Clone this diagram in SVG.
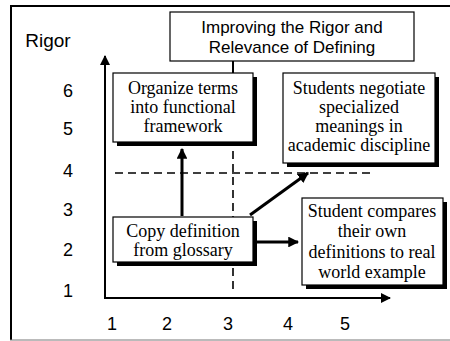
<svg xmlns="http://www.w3.org/2000/svg" width="450" height="341" viewBox="0 0 450 341">
<style>
.ax{font-family:"Liberation Sans",Arial,sans-serif;font-size:18px;fill:#000;text-anchor:middle}
.tt{font-family:"Liberation Sans",Arial,sans-serif;font-size:17px;fill:#000;text-anchor:middle}
.bx{font-family:"Liberation Serif","Times New Roman",serif;font-size:18px;fill:#000;text-anchor:middle}
.box{fill:#fff;stroke:#000;stroke-width:1.2}
.sh{fill:#000}
.ar{stroke:#000;stroke-width:3;fill:none}
.dash{stroke:#000;stroke-width:1.6;stroke-dasharray:8 5;fill:none}
</style>
<defs>
<marker id="ah" viewBox="0 0 10 10" refX="9" refY="5" markerWidth="3.6" markerHeight="3.6" orient="auto" markerUnits="strokeWidth">
<path d="M0,0 L10,5 L0,10 z" fill="#000"/>
</marker>
<marker id="ah2" viewBox="0 0 10 10" refX="9" refY="5" markerWidth="5" markerHeight="5" orient="auto" markerUnits="strokeWidth">
<path d="M0,0 L10,5 L0,10 z" fill="#000"/>
</marker>
</defs>
<rect width="450" height="341" fill="#fff"/>
<g id="frame">
<line x1="10" y1="6" x2="450" y2="6" stroke="#000" stroke-width="2.2"/>
<line x1="11" y1="5" x2="11" y2="340" stroke="#000" stroke-width="2"/>
<line x1="10" y1="340" x2="450" y2="340" stroke="#777" stroke-width="1"/>
</g>
<g id="axes">
<line x1="105" y1="298" x2="105" y2="56" stroke="#000" stroke-width="2" marker-end="url(#ah2)"/>
<line x1="104" y1="298" x2="390" y2="298" stroke="#000" stroke-width="2" marker-end="url(#ah2)"/>
<text class="ax" x="48" y="47" style="font-size:19px">Rigor</text>
<text class="ax" x="68" y="97">6</text>
<text class="ax" x="68" y="135">5</text>
<text class="ax" x="68" y="177">4</text>
<text class="ax" x="68" y="216">3</text>
<text class="ax" x="68" y="256">2</text>
<text class="ax" x="68" y="297">1</text>
<text class="ax" x="112" y="330">1</text>
<text class="ax" x="167" y="330">2</text>
<text class="ax" x="228" y="330">3</text>
<text class="ax" x="288" y="330">4</text>
<text class="ax" x="345" y="330">5</text>
</g>
<g id="connectors">
<line class="dash" x1="233" y1="60" x2="233" y2="290"/>
<line class="dash" x1="115" y1="173" x2="375" y2="173"/>
<line x1="233" y1="61" x2="233" y2="74" stroke="#000" stroke-width="2"/>
<line class="ar" x1="182" y1="216" x2="182" y2="149" marker-end="url(#ah)"/>
<line class="ar" x1="250" y1="215" x2="308" y2="173" marker-end="url(#ah)"/>
<line class="ar" x1="257" y1="242" x2="298" y2="242" marker-end="url(#ah)"/>
</g>
<g id="title">
<rect x="170" y="12" width="244" height="49" fill="#fff" stroke="#000" stroke-width="1.2"/>
<text class="tt" x="292" y="33">Improving the Rigor and</text>
<text class="tt" x="292" y="53">Relevance of Defining</text>
</g>
<g id="organize">
<rect class="sh" x="117" y="77" width="140" height="69"/>
<rect class="box" x="113" y="73" width="140" height="69"/>
<text class="bx" x="183" y="94">Organize terms</text>
<text class="bx" x="183" y="113">into functional</text>
<text class="bx" x="183" y="132">framework</text>
</g>
<g id="negotiate">
<rect class="sh" x="287" y="77" width="152" height="90"/>
<rect class="box" x="283" y="73" width="152" height="90"/>
<text class="bx" x="359" y="94">Students negotiate</text>
<text class="bx" x="359" y="113">specialized</text>
<text class="bx" x="359" y="132">meanings in</text>
<text class="bx" x="359" y="151">academic discipline</text>
</g>
<g id="copy">
<rect class="sh" x="117" y="221" width="140" height="45"/>
<rect class="box" x="113" y="217" width="140" height="45"/>
<text class="bx" x="183" y="237">Copy definition</text>
<text class="bx" x="183" y="256">from glossary</text>
</g>
<g id="compares">
<rect class="sh" x="306" y="202" width="141" height="87"/>
<rect class="box" x="302" y="198" width="141" height="87"/>
<text class="bx" x="372" y="217">Student compares</text>
<text class="bx" x="372" y="237">their own</text>
<text class="bx" x="372" y="258">definitions to real</text>
<text class="bx" x="372" y="278">world example</text>
</g>
</svg>
